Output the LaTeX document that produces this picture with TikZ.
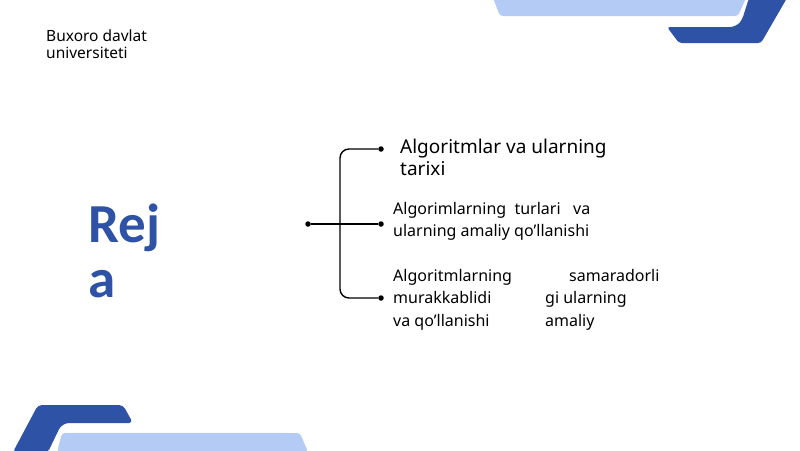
\documentclass[tikz,border=0pt]{standalone}
\usepackage{fontspec}
\setmainfont{Noto Sans}
\setsansfont{Noto Sans}
\newfontfamily\rejafont{Carlito}
\usetikzlibrary{positioning}
\definecolor{darkblue}{HTML}{2E52A6}
\definecolor{lightblue}{HTML}{B4CCF5}

\begin{document}
\begin{tikzpicture}[x=1pt,y=-1pt,font=\sffamily,
  txt/.style={anchor=base west,inner sep=0pt,align=left},
  dot/.style={circle,fill=black,inner sep=0pt,minimum size=5.5pt},
  brace/.style={line width=1.4pt,rounded corners=9pt}]
\useasboundingbox (0,0) rectangle (800,450);
% decorative corners
\fill[lightblue,rounded corners=3pt] (493,-2) -- (500,16) -- (738,16) -- (746,-2) -- cycle;
\fill[darkblue,rounded corners=4pt] (749,-2) -- (742,20) [rounded corners=6pt]-- (736,27) [rounded corners=3pt]-- (667,27) -- (679,43) -- (761,43) -- (787,-2) -- cycle;
\fill[darkblue,rounded corners=4pt] (13,452) -- (38,405) -- (123,405) -- (133,423) [rounded corners=7pt]-- (62,423) [rounded corners=3pt]-- (48,452) -- cycle;
\fill[lightblue,rounded corners=3pt] (57,452) -- (62,433) -- (300,433) -- (308,452) -- cycle;
% header (base = last line)
\node[txt,font=\fontsize{15.5}{17}\selectfont] (uni) at (46,58) {Buxoro davlat\\universiteti};
\node[txt,font=\rejafont\bfseries\fontsize{55}{55}\selectfont,text=darkblue] (reja) at (88,297) {Rej\\a};
% bracket
\node[dot] (root) at (308,224) {};
\node[dot] (b1) at (381,149) {};
\node[dot] (b2) at (381,224) {};
\node[dot] (b3) at (381,298) {};
\draw[line width=1.4pt] (root) -- (b2);
\draw[brace] (b1) -| (340,224) |- (b3);
% items
\node[txt,font=\fontsize{19}{22}\selectfont] (t1) at (400,175) {Algoritmlar va ularning\\tarixi};
\node[txt,font=\fontsize{16}{22}\selectfont] (t2) at (393,236) {Algorimlarning\ \ turlari\ \ \ va\\ularning amaliy qo'llanishi};
\node[txt,font=\fontsize{16}{22.5}\selectfont] (t3a) at (393,326) {Algoritmlarning\\murakkablidi\\va qo'llanishi};
\node[txt,font=\fontsize{16}{22.5}\selectfont] (t3b) at (569,281) {samaradorli};
\node[txt,font=\fontsize{16}{22.5}\selectfont] (t3c) at (545,326) {gi ularning\\amaliy};
\end{tikzpicture}
\end{document}
